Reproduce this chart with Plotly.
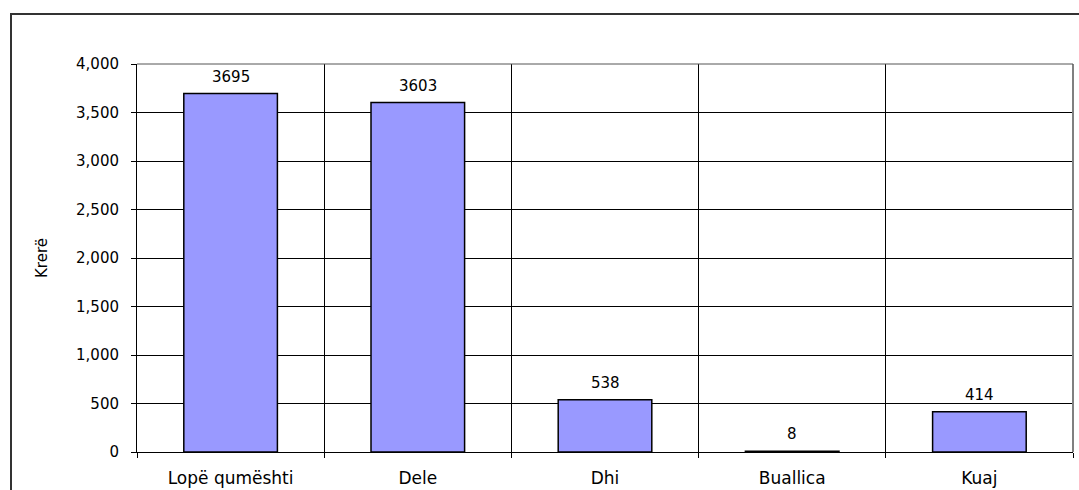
import plotly.graph_objects as go

categories = ["Lopë qumështi", "Dele", "Dhi", "Buallica", "Kuaj"]
values = [3695, 3603, 538, 8, 414]
y_ticks = [0, 500, 1000, 1500, 2000, 2500, 3000, 3500, 4000]
y_title = "Krerë"

L, R, T, B = 137, 6, 64, 38
W, H = 1079, 490
pw, ph = W - L - R, H - T - B
FONT = "DejaVu Sans, Liberation Sans, Arial"

def px2x(px):
    return (px - L) / pw

def py2y(py):
    return (H - B - py) / ph

fig = go.Figure()
fig.add_trace(go.Bar(
    x=categories, y=values, width=0.5,
    marker=dict(color="#9999FF", line=dict(color="#000000", width=1.5)),
    hoverinfo="x+y",
))

for c, v in zip(categories, values):
    fig.add_annotation(x=c, y=v, text=str(v), showarrow=False,
                       xanchor="center", yanchor="bottom", yshift=6,
                       font=dict(family=FONT, size=15, color="#000"))

fig.update_layout(
    width=W, height=H,
    margin=dict(l=L, r=R, t=T, b=B, autoexpand=False),
    paper_bgcolor="white", plot_bgcolor="white",
    showlegend=False,
    font=dict(family=FONT, size=15, color="#000"),
    xaxis=dict(
        type="category", tickson="boundaries",
        showgrid=True, gridcolor="#000", gridwidth=1,
        showline=True, linecolor="#000", linewidth=1,
        ticks="outside", ticklen=5, tickcolor="#000",
        tickfont=dict(size=17), ticklabelstandoff=11,
        range=[-0.5, 4.5], automargin=False,
    ),
    yaxis=dict(
        range=[0, 4000], tickvals=y_ticks, tickformat=",d",
        showgrid=True, gridcolor="#000", gridwidth=1,
        showline=True, linecolor="#000", linewidth=1,
        ticks="outside", ticklen=5, tickcolor="#000",
        tickfont=dict(size=15), ticklabelstandoff=9,
        title=dict(text=y_title, font=dict(size=15), standoff=24),
        zeroline=False, automargin=False,
    ),
    bargap=0.5,
)

# right plot border (grey)
fig.add_shape(type="line", xref="paper", yref="paper", x0=1, x1=1, y0=0, y1=1,
              line=dict(color="#808080", width=2))
fig.add_shape(type="line", xref="paper", yref="paper", x0=0, x1=1, y0=1, y1=1,
              line=dict(color="#555", width=1))
# outer chart frame
fig.add_shape(type="rect", xref="paper", yref="paper",
              x0=px2x(11), x1=px2x(1090), y0=py2y(500), y1=py2y(14),
              line=dict(color="#333", width=2), layer="below")

fig.write_html("out.html", config={"displayModeBar": False},
               post_script="document.body.style.margin='0';")
